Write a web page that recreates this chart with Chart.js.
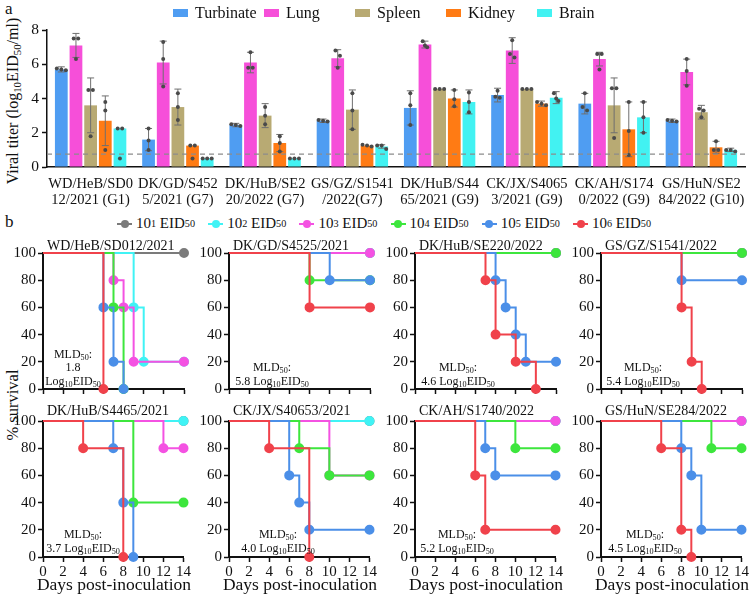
<!DOCTYPE html>
<html>
<head>
<meta charset="utf-8">
<script src="https://cdn.jsdelivr.net/npm/chart.js@4.4.1/dist/chart.umd.min.js"></script>
<style>
  body { margin: 0; background: #fff; }
  #fig { position: relative; width: 750px; height: 594px; overflow: hidden;
         font-family: "Liberation Serif", "Times New Roman", serif; color: #111; }
  #fig canvas { position: absolute; }
  .t { position: absolute; white-space: nowrap; line-height: 1; }
  .rot { transform: translate(-50%, -50%) rotate(-90deg); }
  .ctr { transform: translateX(-50%); text-align: center; }
  sub, sup { font-size: 0.68em; line-height: 0; }
  sub { vertical-align: -0.3em; }
  sup { vertical-align: 0.5em; }
  .lg { position: absolute; display: flex; align-items: center; white-space: nowrap; }
</style>
</head>
<body>
<div id="fig">
  <div class="t" style="left:5px;top:0px;font-size:17px">a</div>
  <div class="t" style="left:5px;top:213px;font-size:17px">b</div>
  <div class="t rot" style="left:13px;top:101px;font-size:16px">Viral titer (log<sub>10</sub>EID<sub>50</sub>/ml)</div>
  <div class="t rot" style="left:13px;top:405px;font-size:16.5px">% survival</div>
  <canvas id="barChart" width="750" height="210" style="left:0;top:0"></canvas>
</div>

<script>
/* ============================================================
   DATA — panel a (viral titers, log10 EID50/ml)
============================================================ */

const strains = [
    ["WD/HeB/SD0", "12/2021 (G1)"],
    ["DK/GD/S452", "5/2021 (G7)"],
    ["DK/HuB/SE2", "20/2022 (G7)"],
    ["GS/GZ/S1541", "/2022(G7)"],
    ["DK/HuB/S44", "65/2021 (G9)"],
    ["CK/JX/S4065", "3/2021 (G9)"],
    ["CK/AH/S174", "0/2022 (G9)"],
    ["GS/HuN/SE2", "84/2022 (G10)"]
];

const tissues = ["Turbinate", "Lung", "Spleen", "Kidney", "Brain"];

const turbinate = [5.7, 1.6, 2.45, 2.7, 3.45, 4.2, 3.7, 2.7];
const lung      = [7.1, 6.1, 6.1, 6.35, 7.15, 6.8, 6.3, 5.55];
const spleen    = [3.6, 3.5, 3.0, 3.35, 4.55, 4.55, 3.6, 3.2];
const kidney    = [2.7, 1.25, 1.4, 1.25, 4.0, 3.7, 2.2, 1.15];
const brain     = [2.25, 0.5, 0.5, 1.2, 3.8, 4.05, 2.9, 1.0];

const turbinateSD = [0.15, 0.65, 0.1, 0.1, 1.0, 0.4, 0.6, 0.1];
const lungSD      = [0.7, 1.25, 0.6, 0.5, 0.2, 0.75, 0.4, 0.75];
const spleenSD    = [1.6, 1.05, 0.7, 1.15, 0, 0, 1.6, 0.4];
const kidneySD    = [1.45, 0, 0.5, 0, 0.5, 0.15, 1.6, 0.35];
const brainSD     = [0, 0, 0, 0.1, 0.7, 0.35, 0.9, 0.1];

// individual birds (3 per bar)
const turbinateDots = [[5.75,5.7,5.65],[2.25,1.55,1.0],[2.5,2.45,2.4],[2.75,2.7,2.65],[4.3,3.6,2.45],[4.45,4.1,4.05],[4.3,3.5,3.3],[2.75,2.7,2.65]];
const lungDots      = [[7.5,7.5,6.3],[7.3,6.3,4.7],[6.7,5.8,5.8],[6.8,6.5,5.8],[7.35,7.1,7.0],[7.4,6.6,6.4],[6.6,6.6,5.7],[6.3,5.6,4.75]];
const spleenDots    = [[4.5,4.5,1.8],[4.3,3.5,2.75],[3.5,3.0,2.5],[4.3,3.3,2.2],[4.55,4.55,4.55],[4.55,4.55,4.55],[4.6,4.6,1.7],[3.4,3.3,2.9]];
const kidneyDots    = [[3.8,3.3,1.0],[1.25,1.25,0.5],[1.8,1.4,0.9],[1.3,1.25,1.2],[4.5,3.95,3.55],[3.8,3.7,3.6],[3.8,2.1,0.7],[1.5,1.0,1.0]];
const brainDots     = [[2.25,2.25,0.5],[0.5,0.5,0.5],[0.5,0.5,0.5],[1.25,1.25,1.05],[4.35,3.8,3.2],[4.3,4.0,3.85],[3.8,2.9,2.0],[1.0,1.0,0.9]];

const detectionLimit = 0.75;
const titerTicks = [0, 2, 4, 6, 8];

/* ============================================================
   DATA — panel b (survival, % of birds, [day, %])
============================================================ */

const doseExponents = ["1", "2", "3", "4", "5", "6"];
const panelTitles = ["WD/HeB/SD012/2021", "DK/GD/S4525/2021", "DK/HuB/SE220/2022", "GS/GZ/S1541/2022",
                     "DK/HuB/S4465/2021", "CK/JX/S40653/2021", "CK/AH/S1740/2022", "GS/HuN/SE284/2022"];
const mld50 = ["1.8", "5.8", "4.6", "5.4", "3.7", "4.0", "5.2", "4.5"];

const survWDHeB = [
    [[0,100],[14,100]],
    [[0,100],[9,60],[10,20],[14,20]],
    [[0,100],[7,80],[8,60],[9,20],[14,20]],
    [[0,100],[7,60],[8,0]],
    [[0,100],[6,60],[7,20],[8,0]],
    [[0,100],[6,0]]
];
const survDKGD = [
    [[0,100],[14,100]],
    [[0,100],[14,100]],
    [[0,100],[14,100]],
    [[0,100],[8,80],[14,80]],
    [[0,100],[10,80],[14,80]],
    [[0,100],[8,60],[14,60]]
];
const survDKHuBSE = [
    [[0,100],[14,100]],
    [[0,100],[14,100]],
    [[0,100],[14,100]],
    [[0,100],[14,100]],
    [[0,100],[8,80],[9,60],[10,40],[11,20],[14,20]],
    [[0,100],[7,80],[8,40],[10,20],[12,0]]
];
const survGSGZ = [
    [[0,100],[14,100]],
    [[0,100],[14,100]],
    [[0,100],[14,100]],
    [[0,100],[14,100]],
    [[0,100],[8,80],[14,80]],
    [[0,100],[8,60],[9,20],[10,0]]
];
const survDKHuBS = [
    [[0,100],[14,100]],
    [[0,100],[14,100]],
    [[0,100],[12,80],[14,80]],
    [[0,100],[9,40],[14,40]],
    [[0,100],[7,80],[8,40],[9,0]],
    [[0,100],[4,80],[8,0]]
];
const survCKJX = [
    [[0,100],[14,100]],
    [[0,100],[14,100]],
    [[0,100],[10,60],[14,60]],
    [[0,100],[7,80],[10,60],[14,60]],
    [[0,100],[6,60],[7,40],[8,20],[14,20]],
    [[0,100],[4,80],[8,0]]
];
const survCKAH = [
    [[0,100],[14,100]],
    [[0,100],[14,100]],
    [[0,100],[14,100]],
    [[0,100],[10,80],[14,80]],
    [[0,100],[7,80],[8,60],[14,60]],
    [[0,100],[6,60],[7,20],[14,20]]
];
const survGSHuN = [
    [[0,100],[14,100]],
    [[0,100],[14,100]],
    [[0,100],[14,100]],
    [[0,100],[11,80],[14,80]],
    [[0,100],[8,80],[9,60],[10,20],[14,20]],
    [[0,100],[6,80],[8,20],[9,0]]
];
const survivalPanels = [survWDHeB, survDKGD, survDKHuBSE, survGSGZ, survDKHuBS, survCKJX, survCKAH, survGSHuN];


/* ============================================================
   STYLE / LAYOUT
============================================================ */

const tissueColors = ["#4f9df2", "#f64fd9", "#b8aa73", "#ff7b14", "#42f2f2"];
const doseColors   = ["#7b7b7b", "#40f3f5", "#f452e2", "#3de63d", "#4b8fe8", "#f0424b"];
const FONT = "'Liberation Serif', 'Times New Roman', serif";
const INK = "#111";

const fig = document.getElementById("fig");

function addText(html, style, cls) {
    const d = document.createElement("div");
    d.className = "t " + (cls || "");
    d.innerHTML = html;
    d.setAttribute("style", style);
    fig.appendChild(d);
    return d;
}


/* ============================================================
   PANEL a — legend
============================================================ */

tissues.forEach((name, i) => {
    const item = document.createElement("div");
    item.className = "lg";
    item.style.left = (173 + i * 91) + "px";
    item.style.top = "4px";
    item.style.fontSize = "16px";
    item.innerHTML = `<span style="display:inline-block;width:15px;height:8px;background:${tissueColors[i]};margin-right:7px"></span>${name}`;
    fig.appendChild(item);
});


/* ============================================================
   PANEL a — bar chart with SD and individual points
============================================================ */

const barExtras = {
    id: "barExtras",
    afterDatasetsDraw(chart) {
        const { ctx, chartArea } = chart;
        const y = chart.scales.y;
        ctx.save();

        chart.data.datasets.forEach((ds, di) => {
            const meta = chart.getDatasetMeta(di);
            meta.data.forEach((bar, i) => {
                const m = ds.data[i], sd = ds.sd[i];
                const x = bar.x;

                // SD bar
                if (sd > 0) {
                    const yt = y.getPixelForValue(m + sd);
                    const yb = y.getPixelForValue(Math.max(m - sd, 0));
                    ctx.strokeStyle = "#6f6f6f";
                    ctx.lineWidth = 1;
                    ctx.beginPath();
                    ctx.moveTo(x, yt); ctx.lineTo(x, yb);
                    ctx.moveTo(x - 3.5, yt); ctx.lineTo(x + 3.5, yt);
                    ctx.moveTo(x - 3.5, yb); ctx.lineTo(x + 3.5, yb);
                    ctx.stroke();
                }

                // individual points, spread sideways when they overlap
                const vals = ds.dots[i];
                ctx.fillStyle = "#4a4a4a";
                vals.forEach((v, k) => {
                    const near = vals.map((w, j) => j).filter(j => Math.abs(vals[j] - v) < 0.3);
                    const pos = near.indexOf(k);
                    const dx = (pos - (near.length - 1) / 2) * 4.5;
                    ctx.beginPath();
                    ctx.arc(x + dx, y.getPixelForValue(v), 2, 0, Math.PI * 2);
                    ctx.fill();
                });
            });
        });

        // detection limit
        const yl = y.getPixelForValue(detectionLimit);
        ctx.strokeStyle = "#8c8c8c";
        ctx.lineWidth = 1.2;
        ctx.setLineDash([5, 4]);
        ctx.beginPath();
        ctx.moveTo(chartArea.left, yl);
        ctx.lineTo(chartArea.right, yl);
        ctx.stroke();
        ctx.restore();
    }
};

const titerSeries = [turbinate, lung, spleen, kidney, brain];
const titerSD = [turbinateSD, lungSD, spleenSD, kidneySD, brainSD];
const titerDots = [turbinateDots, lungDots, spleenDots, kidneyDots, brainDots];

new Chart(document.getElementById("barChart"), {
    type: "bar",
    data: {
        labels: strains,
        datasets: tissues.map((name, i) => ({
            label: name,
            data: titerSeries[i],
            sd: titerSD[i],
            dots: titerDots[i],
            backgroundColor: tissueColors[i],
            borderWidth: 0,
            categoryPercentage: 0.84,
            barPercentage: 0.87
        }))
    },
    options: {
        responsive: false,
        animation: false,
        layout: { padding: { top: 30, right: 5, left: 0, bottom: 0 } },
        plugins: { legend: { display: false }, tooltip: { enabled: false } },
        scales: {
            x: {
                grid: { display: false },
                border: { color: INK, width: 1.5 },
                ticks: { color: INK, font: { family: FONT, size: 14.5, lineHeight: 1.1 }, padding: 1,
                         maxRotation: 0, autoSkip: false },
                afterFit: s => { s.height = 43; }
            },
            y: {
                min: 0, max: 8,
                afterBuildTicks: s => { s.ticks = titerTicks.map(v => ({ value: v })); },
                grid: { drawOnChartArea: false, tickLength: 5, tickWidth: 1.5, tickColor: INK },
                border: { color: INK, width: 1.5 },
                ticks: { color: INK, font: { family: FONT, size: 15.5 }, padding: 3 },
                afterFit: s => { s.width = 47; }
            }
        }
    },
    plugins: [barExtras]
});


/* ============================================================
   PANEL b — legend
============================================================ */

doseExponents.forEach((e, i) => {
    const item = document.createElement("div");
    item.className = "lg";
    item.style.left = (117 + i * 91.2) + "px";
    item.style.top = "215px";
    item.style.fontSize = "15px";
    item.innerHTML =
        `<span style="position:relative;display:inline-block;width:15px;height:16px;margin-right:4px">` +
        `<span style="position:absolute;left:0;top:7px;width:15px;height:2px;background:${doseColors[i]}"></span>` +
        `<span style="position:absolute;left:3.5px;top:4px;width:8px;height:8px;border-radius:50%;background:${doseColors[i]}"></span>` +
        `</span>10<sup>${e}</sup>&nbsp;EID<sub>50</sub>`;
    fig.appendChild(item);
});


/* ============================================================
   PANEL b — survival curves
============================================================ */

const axisLefts = [43, 229, 415, 601];
const mldOffsets = [30, 43, 43, 42, 40, 49, 42, 44];
const dayTicks = [0, 2, 4, 6, 8, 10, 12, 14];

survivalPanels.forEach((panel, p) => {
    const col = p % 4, row = Math.floor(p / 4);
    const ax = axisLefts[col];
    const canvasTop = row === 0 ? 233 : 401;
    const canvasH = row === 0 ? 167 : 183;

    const cv = document.createElement("canvas");
    cv.width = 192;
    cv.height = canvasH;
    cv.style.left = (ax - 43) + "px";
    cv.style.top = canvasTop + "px";
    fig.appendChild(cv);

    new Chart(cv, {
        type: "line",
        data: {
            datasets: panel.map((pts, d) => ({
                label: "10^" + doseExponents[d],
                data: pts.map(([x, y]) => ({ x, y })),
                borderColor: doseColors[d],
                backgroundColor: doseColors[d],
                pointBackgroundColor: doseColors[d],
                pointBorderColor: doseColors[d],
                pointRadius: pts.map((_, k) => (k === 0 ? 0 : 4)),
                borderWidth: 2,
                stepped: true,
                clip: false,
                order: 5 - d
            }))
        },
        options: {
            responsive: false,
            animation: false,
            layout: { padding: { top: 20, right: 8, left: 0, bottom: 0 } },
            plugins: { legend: { display: false }, tooltip: { enabled: false } },
            scales: {
                x: {
                    type: "linear", min: 0, max: 14,
                    afterBuildTicks: s => { s.ticks = dayTicks.map(v => ({ value: v })); },
                    ticks: { display: row === 1, color: INK, padding: 1, maxRotation: 0, minRotation: 0,
                             autoSkip: false, font: { family: FONT, size: 15 } },
                    grid: { drawOnChartArea: false, tickLength: 5, tickWidth: 1.5, tickColor: INK },
                    border: { color: INK, width: 2 },
                    afterFit: s => { s.height = row === 0 ? 10 : 27; }
                },
                y: {
                    min: 0, max: 100,
                    ticks: { stepSize: 20, color: INK, padding: 2, font: { family: FONT, size: 15 } },
                    grid: { drawOnChartArea: false, tickLength: 5, tickWidth: 1.5, tickColor: INK },
                    border: { color: INK, width: 2 },
                    afterFit: s => { s.width = 43; }
                }
            }
        }
    });

    // panel title
    const zeroY = row === 0 ? 390 : 557;
    const topY = zeroY - 137;
    addText(panelTitles[p], `left:${ax + 4}px;top:${topY - (row === 0 ? 14 : 16)}px;font-size:14px`);

    // MLD50 note
    const mx = ax + mldOffsets[p];
    const mldHtml = p === 0
        ? `MLD<sub>50</sub>:<br>${mld50[p]}<br>Log<sub>10</sub>EID<sub>50</sub>`
        : `MLD<sub>50</sub>:<br>${mld50[p]} Log<sub>10</sub>EID<sub>50</sub>`;
    const nLines = p === 0 ? 3 : 2;
    addText(mldHtml, `left:${mx}px;top:${zeroY - 2 - nLines * 13.5}px;font-size:12px;line-height:13.5px`, "ctr");

    // x title (bottom row only)
    if (row === 1) {
        addText("Days post-inoculation", `left:${ax + 71}px;top:576px;font-size:17.5px`, "ctr");
    }
});
</script>
</body>
</html>
